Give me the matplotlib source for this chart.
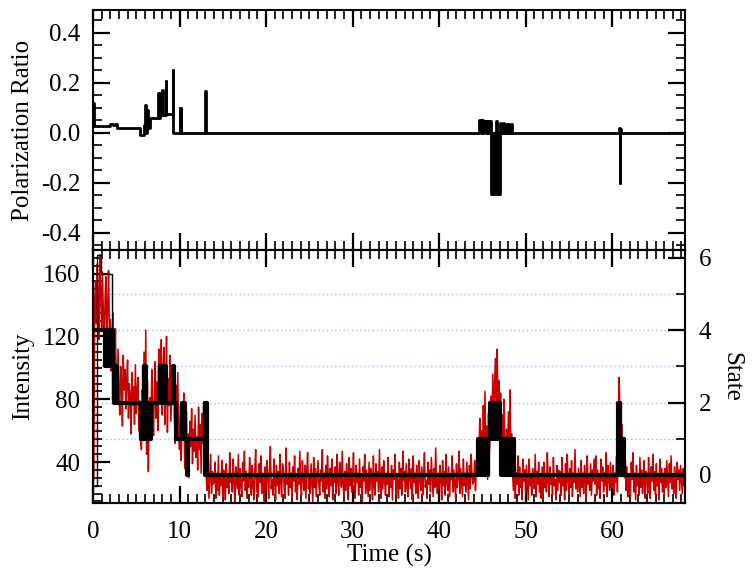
import numpy as np
import matplotlib.pyplot as plt
from matplotlib.ticker import MultipleLocator
from matplotlib.transforms import blended_transform_factory

plt.rcParams['font.family'] = ['Liberation Serif', 'DejaVu Serif']
plt.rcParams['font.size'] = 18
plt.rcParams['axes.unicode_minus'] = False

# intensity trace, one sample every 0.1 s (20 samples per row = 2 s)
dt = 0.1
intensity = [
    24, 30, 142, 155, 128, 166, 139, 118, 172, 150, 124, 161, 133, 108, 145, 158, 116, 137, 162, 125,
    131, 98, 119, 135, 88, 104, 125, 79, 96, 112, 84, 70, 101, 92, 63, 108, 86, 99, 74, 93,
    105, 68, 90, 82, 58, 97, 76, 88, 64, 102, 71, 85, 94, 60, 79, 55, 48, 86, 66, 110,
    58, 124, 45, 92, 34, 70, 81, 62, 99, 73, 57, 88, 104, 68, 91, 60, 112, 77, 95, 118,
    70, 96, 113, 64, 85, 120, 59, 93, 76, 108, 66, 82, 99, 101, 71, 52, 89, 63, 97, 58,
    48, 77, 41, 68, 55, 84, 36, 62, 72, 45, 58, 30, 66, 50, 74, 39, 61, 47, 70, 43,
    56, 35, 75, 48, 64, 33, 71, 52, 78, 40, 60, 29, 22, 38, 17, 31, 45, 20, 34, 26,
    27, 40, 17, 33, 22, 44, 19, 30, 25, 41, 18, 35, 28, 16, 39, 24, 31, 20, 46, 27,
    33, 21, 42, 26, 15, 37, 29, 23, 45, 19, 36, 25, 18, 40, 28, 47, 22, 34, 17, 30,
    24, 43, 29, 19, 38, 26, 16, 35, 48, 21, 31, 18, 39, 27, 44, 20, 33, 25, 15, 37,
    22, 41, 30, 17, 36, 50, 23, 29, 19, 42, 28, 16, 38, 25, 34, 20, 45, 27, 18, 39,
    35, 23, 17, 49, 26, 31, 19, 40, 24, 33, 18, 37, 28, 44, 21, 30, 16, 36, 26, 47,
    25, 19, 41, 29, 22, 38, 17, 34, 46, 23, 32, 20, 39, 27, 15, 43, 24, 36, 18, 30,
    41, 26, 19, 35, 28, 48, 21, 33, 17, 38, 23, 44, 29, 18, 36, 25, 42, 16, 31, 27,
    37, 20, 45, 28, 19, 40, 33, 24, 47, 26, 18, 34, 22, 39, 30, 16, 43, 25, 36, 21,
    29, 46, 23, 17, 38, 27, 33, 19, 42, 24, 31, 15, 37, 28, 45, 20, 35, 26, 18, 40,
    22, 36, 30, 16, 44, 25, 19, 39, 28, 34, 21, 48, 26, 17, 37, 23, 41, 29, 19, 33,
    26, 43, 18, 31, 24, 38, 16, 35, 29, 45, 20, 32, 27, 17, 40, 23, 36, 19, 47, 28,
    34, 21, 39, 25, 18, 42, 30, 23, 36, 16, 44, 27, 33, 20, 38, 25, 17, 41, 29, 22,
    37, 19, 31, 46, 24, 28, 17, 40, 26, 35, 21, 43, 30, 18, 36, 24, 49, 27, 20, 33,
    23, 38, 28, 16, 41, 25, 34, 19, 45, 27, 22, 37, 18, 32, 29, 44, 21, 35, 26, 17,
    39, 24, 30, 47, 20, 36, 27, 18, 42, 25, 33, 21, 40, 28, 16, 38, 23, 45, 31, 26,
    28, 41, 22, 36, 55, 31, 47, 68, 38, 60, 33, 76, 50, 85, 42, 63, 29, 71, 45, 57,
    82, 64, 96, 70, 88, 106, 62, 112, 78, 92, 58, 84, 46, 70, 38, 80, 52, 33, 61, 44,
    72, 48, 86, 36, 58, 30, 22, 40, 17, 33, 26, 44, 19, 37, 24, 31, 16, 42, 28, 35,
    20, 38, 27, 16, 42, 25, 31, 19, 36, 29, 23, 45, 18, 34, 26, 40, 21, 30, 17, 37,
    17, 40, 24, 33, 21, 46, 28, 18, 37, 26, 32, 19, 43, 25, 29, 16, 38, 22, 35, 27,
    34, 19, 43, 25, 30, 16, 39, 22, 45, 28, 20, 36, 24, 41, 18, 33, 27, 48, 23, 31,
    21, 36, 27, 18, 41, 24, 33, 20, 38, 29, 17, 44, 26, 31, 22, 39, 19, 35, 28, 42,
    26, 44, 19, 35, 23, 30, 17, 42, 28, 37, 21, 33, 25, 46, 18, 38, 29, 22, 40, 24,
    24, 38, 19, 33, 27, 44, 21, 58, 94, 70, 55, 64, 48, 41, 30, 43, 22, 37, 18, 32,
    27, 18, 40, 29, 46, 21, 33, 16, 38, 25, 30, 19, 43, 24, 35, 20, 28, 41, 17, 34,
    31, 20, 43, 26, 17, 37, 28, 45, 22, 34, 19, 39, 25, 30, 16, 42, 27, 36, 21, 33,
    19, 36, 24, 41, 30, 18, 39, 27, 44, 23, 32, 20, 37, 26, 17, 40, 29, 35, 22, 38,
    29, 20, 36, 25, 31,
]
time = np.arange(len(intensity)) * dt

# thin black trace (intensity units)
thin_t = [0.0, 0.45, 0.9, 2.2, 2.5]
thin_v = [25, 172, 160, 80, 80]

# fitted state sequence (step changes)
state_t = [0.0, 1.35, 1.45, 1.55, 1.65, 1.75, 1.85,
           2.3, 2.4, 2.5, 2.6, 2.7, 2.8,
           5.5, 5.6, 5.7, 5.85, 5.95, 6.05, 6.15, 6.3, 6.4, 6.5, 6.6, 6.7,
           7.7, 7.8, 7.9, 8.0, 8.3, 8.4, 9.3, 9.4,
           9.6, 10.3, 10.4, 10.5, 10.6, 10.9, 11.0,
           12.9, 13.0, 13.1, 13.2,
           44.5, 44.7, 44.8, 45.0, 45.1, 45.3, 45.4, 45.6, 45.7,
           45.9, 46.1, 46.2, 46.4, 46.5, 46.7, 46.8,
           47.0, 47.2, 47.3, 47.5, 47.6, 47.8, 47.9, 48.1, 48.2, 48.4, 48.5, 48.6,
           60.7, 60.8, 60.85, 60.95, 61.05, 61.1, 61.25, 61.3, 61.4, 68.4]
state_v = [4, 3, 4, 3, 4, 3, 4,
           3, 2, 3, 2, 3, 2,
           1, 2, 1, 3, 1, 3, 1, 2, 1, 2, 1, 2,
           3, 2, 3, 2, 3, 2, 3, 2,
           1, 2, 1, 2, 1, 0, 1,
           2, 0, 2, 0,
           1, 0, 1, 0, 1, 0, 1, 0, 1,
           2, 1, 2, 1, 2, 1, 2,
           1, 0, 1, 0, 1, 0, 1, 0, 1, 0, 1, 0,
           2, 0, 2, 1, 0, 1, 0, 1, 0, 0]

# polarization ratio (step changes)
pol_t = [0.0, 0.12, 2.0, 2.3, 2.5, 2.8, 5.4, 5.9, 6.0, 6.1, 6.2, 6.3, 6.4, 6.6,
         7.5, 7.6, 7.7, 7.8, 8.0, 8.05, 8.4, 8.45, 9.2, 9.3,
         10.0, 10.05, 10.15, 10.2, 13.0, 13.08,
         44.6, 44.8, 44.9, 45.1, 45.2, 45.4, 45.5, 45.7, 45.8,
         46.0, 46.1, 46.15, 46.25, 46.3, 46.4, 46.45, 46.55,
         46.65, 46.75, 46.8, 46.9, 46.95, 47.05,
         47.2, 47.4, 47.5, 47.7, 47.8, 48.0, 48.1, 48.3, 48.4, 48.6,
         60.75, 60.85, 60.95, 61.05, 68.4]
pol_v = [0.12, 0.025, 0.035, 0.03, 0.035, 0.02, -0.01, 0.03, 0.11, 0.0, 0.04, 0.09, 0.02, 0.057,
         0.16, 0.06, 0.16, 0.07, 0.17, 0.07, 0.205, 0.075, 0.25, 0.0,
         0.1, 0.0, 0.1, 0.0, 0.165, 0.0,
         0.05, 0.0, 0.05, 0.0, 0.048, 0.0, 0.047, 0.0, 0.045,
         -0.245, 0.0, -0.245, 0.0, -0.245, 0.0, -0.245, 0.045,
         -0.245, 0.0, -0.245, 0.0, -0.245, 0.04,
         0.0, 0.04, 0.0, 0.035, 0.0, 0.035, 0.0, 0.033, 0.0, 0.0,
         0.02, -0.2, 0.015, 0.0, 0.0]

grid_states = [1, 2, 3, 4, 5]

fig = plt.figure(figsize=(7.54, 5.77), dpi=100)
ax_top = fig.add_axes([0.1233, 0.5667, 0.7851, 0.4159])
ax_bot = fig.add_axes([0.1233, 0.1282, 0.7851, 0.4385], sharex=ax_top)
ax_state = ax_bot.twinx()

# top panel
ax_top.step(pol_t, pol_v, where='post', color='black', lw=2)
ax_top.set_ylim(-0.47, 0.49)
ax_top.set_yticks([-0.4, -0.2, 0.0, 0.2, 0.4])
ax_top.yaxis.set_minor_locator(MultipleLocator(0.05))
ax_top.set_ylabel('Polarization Ratio')
ax_top.yaxis.set_label_coords(-0.1, 0.5)

# bottom panel
trans = blended_transform_factory(ax_bot.transAxes, ax_state.transData)
for s in grid_states:
    ax_bot.plot([0, 1], [s, s], transform=trans, color='#a9b3f2', lw=1,
                ls=(0, (1, 2)), zorder=0)
ax_bot.plot(time, intensity, color='#c80000', lw=1.1)
ax_bot.step(thin_t, thin_v, where='post', color='black', lw=1)
ax_state.step(state_t, state_v, where='post', color='black', lw=3)

ax_bot.set_ylim(14, 175)
ax_bot.set_yticks([40, 80, 120, 160])
ax_bot.yaxis.set_minor_locator(MultipleLocator(5))
ax_bot.set_ylabel('Intensity')
ax_bot.yaxis.set_label_coords(-0.1, 0.5)

ax_state.set_ylim(-0.78, 6.22)
ax_state.set_yticks([0, 2, 4, 6])
ax_state.yaxis.set_minor_locator(MultipleLocator(1))
ax_state.set_ylabel('State', rotation=270, va='bottom')
ax_state.yaxis.set_label_coords(1.06, 0.5)

ax_bot.set_xlim(0, 68.4)
ax_bot.xaxis.set_major_locator(MultipleLocator(10))
ax_bot.xaxis.set_minor_locator(MultipleLocator(1))
ax_bot.set_xlabel('Time (s)')
ax_bot.xaxis.set_label_coords(0.5, -0.16)

for ax in (ax_top, ax_bot, ax_state):
    for sp in ax.spines.values():
        sp.set_linewidth(1.5)
    ax.tick_params(which='major', direction='in', length=12, width=1.6, pad=9)
    ax.tick_params(which='minor', direction='in', length=6.5, width=1.2)

ax_top.tick_params(axis='x', which='both', top=True, bottom=True, labelbottom=False)
ax_top.tick_params(axis='y', which='both', left=True, right=True, labelright=False)
ax_bot.tick_params(axis='x', which='both', top=True, bottom=True, pad=13)
ax_bot.tick_params(axis='y', which='both', left=True, right=False)
ax_state.tick_params(axis='y', which='both', left=False, right=True, pad=10)

fig.savefig('out.png', dpi=100)
